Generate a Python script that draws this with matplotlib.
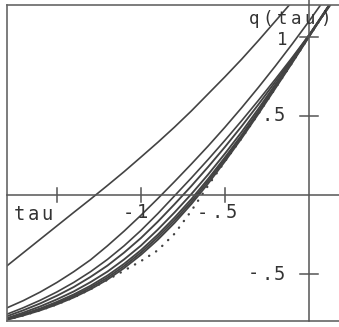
import numpy as np
import matplotlib.pyplot as plt
from matplotlib.patches import Rectangle

# tau grid and q(tau) values (one list per curve)
tau = [-1.8, -1.7, -1.6, -1.5, -1.4, -1.3, -1.2, -1.1, -1.0, -0.9, -0.8,
       -0.7, -0.6, -0.5, -0.4, -0.3, -0.2, -0.1, 0.0, 0.1, 0.2]

q_a = [-0.45, -0.365, -0.28, -0.195, -0.11, -0.026, 0.06, 0.148, 0.24, 0.333, 0.43,
       0.532, 0.64, 0.748, 0.86, 0.978, 1.10, 1.223, 1.35, 1.48, 1.61]
q_b = [-0.715, -0.668, -0.614, -0.553, -0.485, -0.41, -0.322, -0.228, -0.128, -0.023, 0.085,
       0.196, 0.31, 0.429, 0.553, 0.682, 0.816, 0.955, 1.099, 1.248, 1.40]
q_c = [-0.755, -0.713, -0.666, -0.613, -0.553, -0.485, -0.408, -0.321, -0.224, -0.118, -0.005,
       0.108, 0.225, 0.346, 0.471, 0.60, 0.733, 0.87, 1.011, 1.16, 1.31]
q_c2 = [-0.768, -0.729, -0.686, -0.637, -0.582, -0.518, -0.447, -0.364, -0.272, -0.169, -0.058,
        0.057, 0.178, 0.304, 0.436, 0.574, 0.717, 0.862, 1.011, 1.165, 1.32]
q_e = [-0.78, -0.744, -0.705, -0.66, -0.61, -0.551, -0.485, -0.407, -0.32, -0.219, -0.11,
       0.006, 0.13, 0.262, 0.40, 0.547, 0.70, 0.853, 1.01, 1.17, 1.33]
q_d = [-0.785, -0.753, -0.718, -0.676, -0.629, -0.574, -0.51, -0.435, -0.349, -0.251, -0.143,
       -0.026, 0.102, 0.238, 0.38, 0.531, 0.688, 0.845, 1.005, 1.168, 1.33]
q_g = [-0.788, -0.758, -0.724, -0.684, -0.639, -0.585, -0.523, -0.449, -0.364, -0.267, -0.160,
       -0.042, 0.088, 0.226, 0.370, 0.523, 0.682, 0.840, 1.003, 1.166, 1.33]
q_f = [-0.79, -0.762, -0.73, -0.692, -0.648, -0.596, -0.535, -0.462, -0.378, -0.283, -0.176,
       -0.057, 0.073, 0.213, 0.36, 0.515, 0.675, 0.836, 1.0, 1.165, 1.33]
q_dot = [-0.79, -0.762, -0.73, -0.692, -0.648, -0.596, -0.537, -0.478, -0.418, -0.35, -0.245,
         -0.10, 0.06, 0.213, 0.36, 0.515, 0.675, 0.836, 1.0, 1.165, 1.33]

x_ticks = [-1.5, -1.0, -0.5]
y_ticks = [-0.5, 0.5, 1.0]

W, H = 339, 327
col = '#434343'
mono = 'DejaVu Sans Mono'

fig = plt.figure(figsize=(W / 100, H / 100), dpi=100)
ax = fig.add_axes([0, 0, 1, 1])
ax.set_xlim(-1.839, 0.179)
ax.set_ylim(-0.835, 1.234)
ax.axis('off')

clip = Rectangle((-1.8, -0.8), 2.5, 2.0, transform=ax.transData, fill=False, visible=False)
ax.add_patch(clip)

for q in [q_a, q_b, q_c]:
    ln, = ax.plot(tau, q, color=col, lw=1.2, solid_joinstyle='round')
    ln.set_clip_path(clip)
for q in [q_c2, q_e, q_d, q_g, q_f]:
    ln, = ax.plot(tau, q, color=col, lw=1.35, solid_joinstyle='round')
    ln.set_clip_path(clip)
ln, = ax.plot(tau, q_dot, color=col, lw=1.7, linestyle=(0, (0.1, 3.4)),
              dash_capstyle='round')
ln.set_clip_path(clip)

# frame and axes
frame = '#666666'
ax.plot([-1.8, -1.8], [-0.8, 1.2], color=frame, lw=1.2)
ax.plot([-1.8, 0.179], [1.2, 1.2], color=frame, lw=1.2)
ax.plot([-1.8, 0.179], [-0.8, -0.8], color=frame, lw=1.2)
ax.plot([-1.8, 0.179], [0, 0], color='#555555', lw=1.1)
ax.plot([0, 0], [-0.8, 1.234], color='#555555', lw=1.1)

for t in x_ticks:
    ax.plot([t, t], [-0.045, 0.045], color='#555555', lw=1.1)
for t in y_ticks:
    ax.plot([-0.055, 0.055], [t, t], color='#555555', lw=1.1)


# plotter-style labels: one character at a time, fixed pixel positions
def label(chars, xs, y, size=13.5):
    for ch, x in zip(chars, xs):
        fig.text(x / W, 1 - y / H, ch, fontsize=size, family=mono, color='#333333',
                 ha='center', va='center')


label('tau', [19.5, 33, 47], 215)
label('-1', [128, 142], 213)
label('-.5', [202, 217, 231], 213)
label('.5', [267, 279], 116)
label('-.5', [253, 267, 279], 274)
label('1', [282], 40, size=12.5)
label('q(tau)', [254, 268, 282, 296, 310, 326], 19, size=12.5)

plt.savefig('out.png', dpi=100)
